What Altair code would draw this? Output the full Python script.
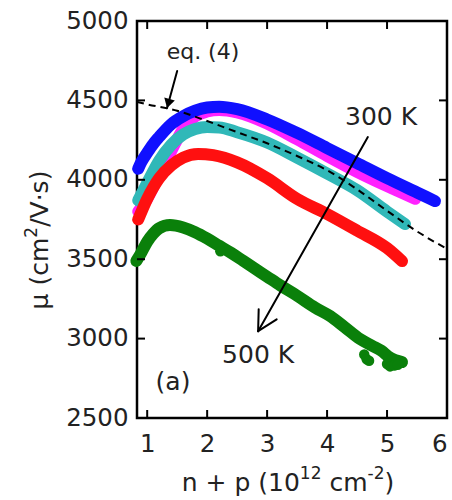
import math
import altair as alt
import pandas as pd

# ---------------- data ----------------
blue_x = [0.85, 0.9, 1.0, 1.1, 1.2, 1.4, 1.6, 1.8, 2.0, 2.2, 2.5, 3.0, 3.5, 4.0, 4.5, 5.0, 5.5, 5.8]
blue_mu = [4070, 4110, 4170, 4225, 4270, 4350, 4400, 4435, 4455, 4460, 4445, 4380, 4295, 4200, 4105, 4010, 3920, 3866]

magenta_x = [0.85, 1.0, 1.2, 1.4, 1.6, 1.8, 2.0, 2.2, 2.5, 3.0, 3.5, 4.0, 4.5, 5.0, 5.47]
magenta_mu = [3800, 3880, 4030, 4180, 4320, 4400, 4430, 4440, 4425, 4355, 4255, 4150, 4050, 3960, 3880]

cyan_x = [0.85, 1.0, 1.2, 1.4, 1.6, 1.8, 2.0, 2.2, 2.5, 3.0, 3.5, 4.0, 4.5, 5.0, 5.3]
cyan_mu = [3870, 3980, 4120, 4220, 4285, 4320, 4332, 4330, 4300, 4235, 4140, 4040, 3935, 3800, 3721]

red_x = [0.85, 1.0, 1.2, 1.4, 1.6, 1.85, 2.1, 2.5, 3.0, 3.5, 4.0, 4.5, 5.0, 5.25]
red_mu = [3750, 3880, 4010, 4090, 4140, 4163, 4155, 4110, 4010, 3880, 3785, 3680, 3570, 3488]

green_x = [0.82, 0.9, 1.0, 1.1, 1.2, 1.38, 1.6, 1.8, 2.0, 2.2, 2.4, 2.6, 2.8, 3.0, 3.22, 3.5, 3.8, 4.05, 4.3, 4.55, 4.75, 4.9, 5.05, 5.25]
green_mu = [3489, 3540, 3610, 3660, 3695, 3715, 3700, 3670, 3630, 3585, 3540, 3490, 3440, 3390, 3335, 3270, 3195, 3142, 3070, 2997, 2955, 2925, 2880, 2852]

# scattered low points of the 500 K curve
green_out_x = [2.22, 4.62, 4.66, 4.7, 5.0, 5.05, 5.12, 5.18]
green_out_mu = [3550, 2900, 2870, 2860, 2840, 2825, 2830, 2835]

eq_x = [0.83, 1.0, 1.5, 2.0, 2.5, 3.0, 3.5, 4.0, 4.5, 5.0, 5.5, 6.0]
eq_mu = [4490, 4475, 4435, 4370, 4300, 4230, 4150, 4060, 3940, 3805, 3675, 3565]

x_ticks = [1, 2, 3, 4, 5, 6]
y_ticks = [2500, 3000, 3500, 4000, 4500, 5000]

# annotations (data coordinates)
ann_text = ["300 K", "500 K", "(a)"]
ann_x = [4.9, 2.85, 1.43]
ann_mu = [4395, 2897, 2726]
eq_label = "eq. (4)"
eq_label_pos = (1.93, 4804)

temp_arrow_tail = (4.68, 4269)
temp_arrow_tip = (2.85, 3047)
eq_arrow_tail = (1.5, 4685)
eq_arrow_tip = (1.33, 4450)

# axis titles: (text, is_superscript)
x_title_parts = [("n + p (10", False), ("12", True), (" cm", False), ("-2", True), (")", False)]
y_title_parts = [("μ (cm", False), ("2", True), ("/V·s)", False)]

# ---------------- layout ----------------
W, H = 310, 397
XDOM = [0.83, 6.0]
YDOM = [2500, 5000]
FONT = "DejaVu Sans"
FS = 25
SUP_FS = 17
SUP_RAISE = 12
LFS = 24.5
TXT = "#222222"

# DejaVu Sans advance widths (em)
ADV = {'n': 0.634, ' ': 0.318, '+': 0.838, 'p': 0.635, '(': 0.390, ')': 0.390,
       '1': 0.636, '0': 0.636, '2': 0.636, 'c': 0.550, 'm': 0.974, '-': 0.361,
       '/': 0.337, 'V': 0.684, '·': 0.318, 's': 0.521, 'μ': 0.636}


def text_w(s, fs):
    return sum(ADV.get(ch, 0.6) for ch in s) * fs


px_per_x = W / (XDOM[1] - XDOM[0])
px_per_mu = H / (YDOM[1] - YDOM[0])

xsc = alt.Scale(domain=XDOM, nice=False, zero=False)
ysc = alt.Scale(domain=YDOM, nice=False, zero=False)

X = alt.X("x:Q", scale=xsc,
          axis=alt.Axis(values=x_ticks, title=None, ticks=False,
                        domain=False, grid=False, labelPadding=14, format="d"))
Y = alt.Y("mu:Q", scale=ysc,
          axis=alt.Axis(values=y_ticks, title=None, ticks=False,
                        domain=False, grid=False, labelPadding=9, format="d"))

LW = 12


def series(xs, ys, color, width=LW):
    df = pd.DataFrame({"x": xs, "mu": ys})
    return alt.Chart(df).mark_line(
        color=color, strokeWidth=width, strokeCap="round", strokeJoin="round",
        interpolate="monotone"
    ).encode(x=X, y=Y)


layers = []
layers.append(series(magenta_x, magenta_mu, "#ff22ff"))
layers.append(series(cyan_x, cyan_mu, "#30b8b8"))
layers.append(series(blue_x, blue_mu, "#1010ff"))
layers.append(series(red_x, red_mu, "#ff1010"))
layers.append(series(green_x, green_mu, "#0a800a"))
layers.append(
    alt.Chart(pd.DataFrame({"x": green_out_x, "mu": green_out_mu}))
    .mark_circle(color="#0a800a", size=110, opacity=1)
    .encode(x=X, y=Y)
)

# dashed eq. (4)
layers.append(
    alt.Chart(pd.DataFrame({"x": eq_x, "mu": eq_mu}))
    .mark_line(color="black", strokeWidth=2, strokeDash=[7, 5], interpolate="monotone")
    .encode(x=X, y=Y)
)


# arrows
def arrow_segments(tail, tip, arm_px, half_angle_deg):
    dxp = (tail[0] - tip[0]) * px_per_x
    dyp = -(tail[1] - tip[1]) * px_per_mu
    L = math.hypot(dxp, dyp)
    ux, uy = dxp / L, dyp / L
    segs = [(tail[0], tail[1], tip[0], tip[1])]
    a = math.radians(half_angle_deg)
    for s in (1, -1):
        rx = ux * math.cos(s * a) - uy * math.sin(s * a)
        ry = ux * math.sin(s * a) + uy * math.cos(s * a)
        ex = tip[0] + rx * arm_px / px_per_x
        ey = tip[1] - ry * arm_px / px_per_mu
        segs.append((tip[0], tip[1], ex, ey))
    return segs


segs = arrow_segments(temp_arrow_tail, temp_arrow_tip, 22, 28)
segs += [(eq_arrow_tail[0], eq_arrow_tail[1], eq_arrow_tip[0], eq_arrow_tip[1])]
seg_df = pd.DataFrame(segs, columns=["x", "mu", "x2", "mu2"])
layers.append(
    alt.Chart(seg_df).mark_rule(color="black", strokeWidth=2, strokeCap="round")
    .encode(x=X, y=Y, x2="x2:Q", y2="mu2:Q")
)

# filled head for eq. (4) arrow
dxp = (eq_arrow_tip[0] - eq_arrow_tail[0]) * px_per_x
dyp = -(eq_arrow_tip[1] - eq_arrow_tail[1]) * px_per_mu
ang = math.degrees(math.atan2(-dxp, dyp))
L = math.hypot(dxp, dyp)
back = 5
head_df = pd.DataFrame({
    "x": [eq_arrow_tip[0] - dxp / L * back / px_per_x],
    "mu": [eq_arrow_tip[1] + dyp / L * back / px_per_mu],
})
layers.append(
    alt.Chart(head_df).mark_point(shape="triangle-down", filled=True, color="black",
                                  size=120, opacity=1, angle=(ang % 360))
    .encode(x=X, y=Y)
)

# tick marks (inward, on all four sides)
xt = pd.DataFrame({"x": x_ticks})
yt = pd.DataFrame({"mu": y_ticks})
tick_style = dict(color="black", strokeWidth=2)
layers.append(alt.Chart(xt).mark_rule(**tick_style).encode(x=X, y=alt.value(H), y2=alt.value(H - 8)))
layers.append(alt.Chart(xt).mark_rule(**tick_style).encode(x=X, y=alt.value(0), y2=alt.value(8)))
layers.append(alt.Chart(yt).mark_rule(**tick_style).encode(y=Y, x=alt.value(0), x2=alt.value(8)))
layers.append(alt.Chart(yt).mark_rule(**tick_style).encode(y=Y, x=alt.value(W), x2=alt.value(W - 8)))

# text annotations
layers.append(
    alt.Chart(pd.DataFrame({"x": ann_x, "mu": ann_mu, "t": ann_text}))
    .mark_text(font=FONT, fontSize=FS, color=TXT, align="center", baseline="middle")
    .encode(x=X, y=Y, text="t:N")
)
layers.append(
    alt.Chart(pd.DataFrame({"x": [eq_label_pos[0]], "mu": [eq_label_pos[1]], "t": [eq_label]}))
    .mark_text(font=FONT, fontSize=22, color=TXT, align="center", baseline="middle")
    .encode(x=X, y=Y, text="t:N")
)

# axis titles built from pieces so the superscripts are raised and readable
one = pd.DataFrame({"k": [0]})


def part_size(sup):
    return SUP_FS if sup else FS


def split_lead(t):
    body = t.lstrip(" ")
    return t[:len(t) - len(body)], body


# x title (horizontal), centred under the plot
x_total = sum(text_w(t, part_size(s)) for t, s in x_title_parts)
x_centre, x_base = W / 2 - 4, 470
cur = x_centre - x_total / 2
for t, s in x_title_parts:
    fs = part_size(s)
    lead, body = split_lead(t)
    cur += text_w(lead, fs)
    layers.append(
        alt.Chart(one).mark_text(text=body, font=FONT, fontSize=fs, color=TXT,
                                 align="left", baseline="alphabetic")
        .encode(x=alt.value(cur), y=alt.value(x_base - (SUP_RAISE if s else 0)))
    )
    cur += text_w(body, fs)

# y title (rotated, reading upwards)
y_total = sum(text_w(t, part_size(s)) for t, s in y_title_parts)
y_centre, y_base = 219, -89
cur = y_centre + y_total / 2
for t, s in y_title_parts:
    fs = part_size(s)
    lead, body = split_lead(t)
    cur -= text_w(lead, fs)
    layers.append(
        alt.Chart(one).mark_text(text=body, font=FONT, fontSize=fs, color=TXT, angle=270,
                                 align="left", baseline="alphabetic")
        .encode(x=alt.value(y_base - (SUP_RAISE - 1 if s else 0)), y=alt.value(cur))
    )
    cur -= text_w(body, fs)

chart = alt.layer(*layers).properties(
    width=W, height=H,
    autosize=alt.AutoSizeParams(type="none"),
    padding={"left": 137, "top": 21, "right": 5, "bottom": 82},
).configure_view(
    stroke="black", strokeWidth=2.5
).configure_axis(
    labelFont=FONT, labelFontSize=LFS, labelColor=TXT,
)

chart.save("out.html", embed_options={"renderer": "svg", "actions": False})
